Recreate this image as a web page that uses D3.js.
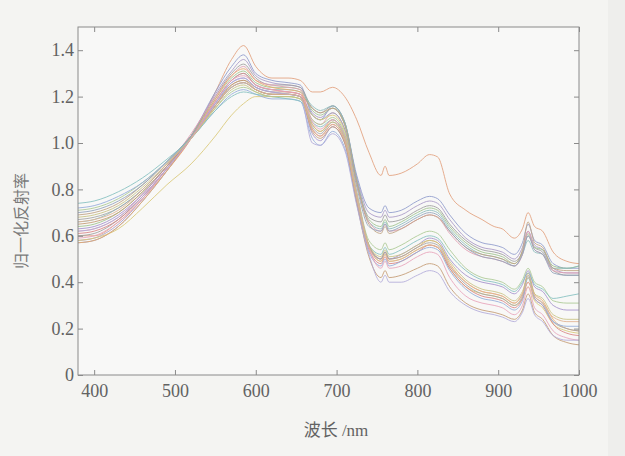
<!DOCTYPE html>
<html>
<head>
<meta charset="utf-8">
<script src="https://cdn.jsdelivr.net/npm/d3@7"></script>
<style>
  html, body { margin: 0; padding: 0; background: #f4f4f2; }
  svg { display: block; }
</style>
</head>
<body>
<svg id="chart" width="625" height="456"></svg>
<script>
// Wavelength sampling points (nm)
const wavelengths = [380, 400, 430, 460, 490, 520, 550, 570, 585, 600, 620, 640, 655, 670, 680, 695, 710, 725, 740, 755, 760, 765, 780, 800, 815, 825, 840, 860, 880, 895, 905, 920, 930, 937, 945, 955, 968, 985, 1000];

// Normalized reflectance of each sample, one array per curve
const s01 = [.60,.60,.66,.76,.88,1.02,1.22,1.36,1.42,1.33,1.28,1.28,1.27,1.22,1.22,1.24,1.20,1.10,0.96,0.86,0.90,0.86,0.87,0.91,0.95,0.94,0.78,0.71,0.67,0.64,0.63,0.59,0.63,0.70,0.64,0.62,0.53,0.49,0.48];
const s02 = [.57,.58,.64,.75,.88,1.03,1.22,1.33,1.38,1.30,1.27,1.26,1.25,1.12,1.10,1.16,1.09,0.86,0.72,0.70,0.73,0.70,0.71,0.75,0.77,0.76,0.69,0.61,0.57,0.56,0.55,0.52,0.57,0.65,0.58,0.56,0.48,0.46,0.46];
const s03 = [.58,.59,.65,.76,.89,1.03,1.21,1.31,1.36,1.29,1.26,1.25,1.24,1.13,1.11,1.15,1.08,0.85,0.70,0.68,0.71,0.68,0.69,0.73,0.75,0.74,0.67,0.59,0.55,0.54,0.53,0.50,0.55,0.62,0.56,0.54,0.46,0.44,0.44];
const s04 = [.60,.61,.67,.77,.89,1.03,1.20,1.30,1.34,1.28,1.25,1.25,1.24,1.15,1.13,1.16,1.09,0.84,0.68,0.66,0.69,0.66,0.67,0.71,0.73,0.72,0.65,0.58,0.54,0.53,0.52,0.49,0.53,0.60,0.55,0.53,0.45,0.43,0.43];
const s05 = [.64,.65,.70,.79,.90,1.03,1.19,1.28,1.31,1.26,1.24,1.24,1.23,1.14,1.12,1.15,1.08,0.83,0.67,0.64,0.67,0.64,0.66,0.70,0.72,0.71,0.64,0.57,0.53,0.52,0.51,0.48,0.53,0.61,0.55,0.54,0.47,0.46,0.47];
const s06 = [.66,.67,.72,.80,.91,1.03,1.18,1.27,1.30,1.25,1.23,1.23,1.22,1.16,1.14,1.16,1.09,0.84,0.66,0.63,0.66,0.63,0.65,0.69,0.71,0.70,0.63,0.56,0.52,0.51,0.50,0.47,0.52,0.58,0.53,0.52,0.46,0.46,0.47];
const s07 = [.62,.63,.68,.78,.90,1.04,1.20,1.29,1.33,1.27,1.25,1.24,1.23,1.10,1.08,1.13,1.06,0.82,0.66,0.62,0.65,0.62,0.63,0.67,0.69,0.68,0.61,0.54,0.51,0.50,0.49,0.47,0.52,0.62,0.54,0.52,0.45,0.44,0.44];
const s08 = [.69,.70,.74,.82,.92,1.03,1.17,1.25,1.27,1.24,1.22,1.22,1.21,1.15,1.13,1.15,1.08,0.83,0.65,0.61,0.64,0.61,0.63,0.67,0.69,0.68,0.62,0.55,0.52,0.51,0.50,0.48,0.54,0.66,0.57,0.55,0.46,0.45,0.45];
const s09 = [.70,.71,.75,.82,.92,1.03,1.16,1.24,1.26,1.23,1.21,1.21,1.20,1.12,1.10,1.13,1.06,0.81,0.64,0.62,0.65,0.62,0.64,0.68,0.70,0.69,0.62,0.55,0.51,0.50,0.49,0.47,0.52,0.60,0.54,0.52,0.44,0.43,0.43];
const s10 = [.58,.59,.63,.72,.82,.91,1.03,1.12,1.17,1.20,1.20,1.20,1.19,1.12,1.10,1.12,1.05,0.78,0.56,0.49,0.52,0.49,0.50,0.54,0.56,0.55,0.46,0.38,0.35,0.34,0.33,0.30,0.33,0.38,0.32,0.29,0.22,0.19,0.18];
const s11 = [.57,.58,.64,.75,.88,1.02,1.19,1.29,1.32,1.27,1.24,1.23,1.22,1.08,1.05,1.10,1.03,0.78,0.56,0.50,0.53,0.50,0.51,0.55,0.58,0.57,0.48,0.40,0.36,0.35,0.34,0.31,0.35,0.44,0.35,0.32,0.24,0.20,0.19];
const s12 = [.61,.62,.67,.77,.89,1.02,1.18,1.27,1.30,1.25,1.23,1.22,1.21,1.06,1.03,1.08,1.01,0.76,0.54,0.48,0.51,0.48,0.49,0.53,0.56,0.55,0.46,0.38,0.34,0.33,0.32,0.29,0.33,0.40,0.33,0.30,0.22,0.18,0.17];
const s13 = [.63,.64,.69,.78,.90,1.02,1.17,1.26,1.28,1.24,1.22,1.21,1.20,1.04,1.01,1.07,1.00,0.75,0.55,0.50,0.53,0.50,0.52,0.56,0.59,0.58,0.50,0.43,0.40,0.39,0.38,0.35,0.39,0.45,0.38,0.36,0.30,0.28,0.28];
const s14 = [.67,.68,.72,.80,.91,1.02,1.16,1.24,1.26,1.23,1.21,1.21,1.20,1.07,1.04,1.09,1.02,0.77,0.56,0.50,0.53,0.50,0.51,0.55,0.57,0.56,0.47,0.39,0.35,0.34,0.33,0.30,0.34,0.43,0.34,0.31,0.23,0.20,0.19];
const s15 = [.71,.72,.76,.83,.92,1.02,1.15,1.22,1.24,1.22,1.20,1.20,1.19,1.10,1.08,1.11,1.04,0.79,0.58,0.54,0.57,0.54,0.56,0.60,0.62,0.61,0.54,0.46,0.42,0.41,0.40,0.37,0.41,0.46,0.40,0.38,0.32,0.31,0.31];
const s16 = [.72,.73,.77,.83,.92,1.02,1.14,1.21,1.23,1.21,1.19,1.19,1.18,1.02,0.99,1.05,0.98,0.74,0.53,0.47,0.50,0.47,0.49,0.53,0.55,0.54,0.45,0.37,0.33,0.32,0.31,0.28,0.32,0.42,0.33,0.30,0.23,0.21,0.21];
const s17 = [.74,.75,.79,.85,.93,1.02,1.14,1.20,1.22,1.21,1.20,1.19,1.18,1.09,1.07,1.10,1.03,0.77,0.56,0.52,0.55,0.52,0.54,0.58,0.60,0.59,0.52,0.45,0.41,0.40,0.39,0.36,0.40,0.44,0.39,0.37,0.33,0.34,0.35];
const s18 = [.59,.60,.66,.76,.89,1.02,1.18,1.27,1.29,1.25,1.23,1.22,1.21,1.09,1.06,1.10,1.03,0.78,0.55,0.46,0.49,0.46,0.47,0.51,0.53,0.52,0.42,0.34,0.31,0.30,0.29,0.26,0.30,0.38,0.29,0.26,0.19,0.16,0.15];
const s19 = [.65,.66,.70,.79,.90,1.02,1.16,1.25,1.27,1.23,1.21,1.21,1.20,1.05,1.02,1.07,1.00,0.74,0.51,0.42,0.45,0.42,0.43,0.46,0.48,0.47,0.38,0.31,0.28,0.27,0.26,0.24,0.28,0.35,0.27,0.24,0.17,0.14,0.13];
const s20 = [.68,.69,.73,.81,.91,1.02,1.15,1.23,1.25,1.22,1.20,1.20,1.19,1.08,1.05,1.09,1.02,0.77,0.56,0.51,0.54,0.51,0.52,0.56,0.58,0.57,0.49,0.41,0.37,0.36,0.35,0.32,0.36,0.42,0.35,0.33,0.26,0.24,0.24];
const s21 = [.62,.63,.68,.77,.89,1.02,1.17,1.26,1.28,1.24,1.22,1.21,1.20,1.00,0.99,1.04,0.97,0.73,0.52,0.40,0.43,0.40,0.40,0.43,0.45,0.44,0.36,0.30,0.27,0.26,0.25,0.23,0.27,0.33,0.26,0.23,0.17,0.15,0.15];
const s22 = [.66,.67,.71,.80,.91,1.02,1.16,1.24,1.26,1.23,1.21,1.21,1.20,1.06,1.03,1.08,1.01,0.76,0.55,0.49,0.52,0.49,0.50,0.54,0.56,0.55,0.47,0.40,0.36,0.35,0.34,0.31,0.35,0.40,0.34,0.31,0.25,0.23,0.23];

const seriesValues = [s01, s02, s03, s04, s05, s06, s07, s08, s09, s10, s11, s12, s13, s14, s15, s16, s17, s18, s19, s20, s21, s22];
const seriesColors = ["#e2a07c", "#8e9acb", "#a898c6", "#9c9c9c", "#9ec28c", "#8cbcbc", "#e09cb0", "#bfa282",
                      "#92a2ba", "#d9c878", "#e8a86a", "#d98484", "#a390cb", "#a3a3a3", "#aac993", "#93abd9",
                      "#84c0c0", "#e8a2ba", "#c39a72", "#c8c282", "#b2aad9", "#e0b292"];

// Axis ticks
const xTicks = [400, 500, 600, 700, 800, 900, 1000];
const yTicks = [0, 0.2, 0.4, 0.6, 0.8, 1.0, 1.2, 1.4];

const svg = d3.select("#chart");
const W = 625, H = 456;
const plot = { left: 78, right: 579, top: 27, bottom: 375 };

// faint darker strip along the right margin of the page
svg.append("rect").attr("x", 608).attr("y", 0).attr("width", W - 608).attr("height", H).attr("fill", "#eeeeec");

const x = d3.scaleLinear().domain([380, 1000]).range([plot.left, plot.right]);
const y = d3.scaleLinear().domain([0, 1.5]).range([plot.bottom, plot.top]);

// plot area
svg.append("rect")
  .attr("x", plot.left).attr("y", plot.top)
  .attr("width", plot.right - plot.left).attr("height", plot.bottom - plot.top)
  .attr("fill", "#f8f8f7");

const line = d3.line()
  .x(d => x(d[0]))
  .y(d => y(d[1]))
  .curve(d3.curveMonotoneX);

const gLines = svg.append("g");
seriesValues.forEach((vals, i) => {
  gLines.append("path")
    .datum(wavelengths.map((w, j) => [w, vals[j]]))
    .attr("d", line)
    .attr("fill", "none")
    .attr("stroke", seriesColors[i])
    .attr("stroke-width", 1)
    .attr("stroke-opacity", 0.85);
});

const tickColor = "#8a8a8a";
const labelColor = "#626262";
const fmtY = d => d === 0 ? "0" : d3.format(".1f")(d);
const fmtX = d3.format("d");

function styleAxis(g, withLabels) {
  g.select(".domain").remove();
  g.selectAll(".tick line").attr("stroke", tickColor);
  g.selectAll(".tick text")
    .attr("fill", labelColor)
    .style("font-family", "'Liberation Serif', 'Times New Roman', serif")
    .style("font-size", "18px");
  if (!withLabels) g.selectAll(".tick text").remove();
}

svg.append("g").attr("transform", `translate(0,${plot.bottom})`)
  .call(d3.axisBottom(x).tickValues(xTicks).tickFormat(fmtX).tickSizeInner(-5).tickSizeOuter(0).tickPadding(9))
  .call(g => styleAxis(g, true));
svg.append("g").attr("transform", `translate(0,${plot.top})`)
  .call(d3.axisTop(x).tickValues(xTicks).tickSizeInner(-5).tickSizeOuter(0))
  .call(g => styleAxis(g, false));
svg.append("g").attr("transform", `translate(${plot.left},0)`)
  .call(d3.axisLeft(y).tickValues(yTicks).tickFormat(fmtY).tickSizeInner(-5).tickSizeOuter(0).tickPadding(4))
  .call(g => styleAxis(g, true));
svg.append("g").attr("transform", `translate(${plot.right},0)`)
  .call(d3.axisRight(y).tickValues(yTicks).tickSizeInner(-5).tickSizeOuter(0))
  .call(g => styleAxis(g, false));

// frame
svg.append("rect")
  .attr("x", plot.left).attr("y", plot.top)
  .attr("width", plot.right - plot.left).attr("height", plot.bottom - plot.top)
  .attr("fill", "none").attr("stroke", tickColor).attr("stroke-width", 1);

// axis titles
svg.append("text")
  .attr("x", 336).attr("y", 436)
  .attr("text-anchor", "middle")
  .attr("fill", labelColor)
  .style("font-size", "17px")
  .style("font-family", "'Liberation Serif', 'Noto Sans CJK SC', serif")
  .text("波长 /nm");

svg.append("text")
  .attr("transform", "translate(27,221) rotate(-90)")
  .attr("text-anchor", "middle")
  .attr("fill", "#7a7a7a")
  .style("font-size", "16px")
  .style("font-family", "'Noto Sans CJK SC', sans-serif")
  .text("归一化反射率");
</script>
</body>
</html>
